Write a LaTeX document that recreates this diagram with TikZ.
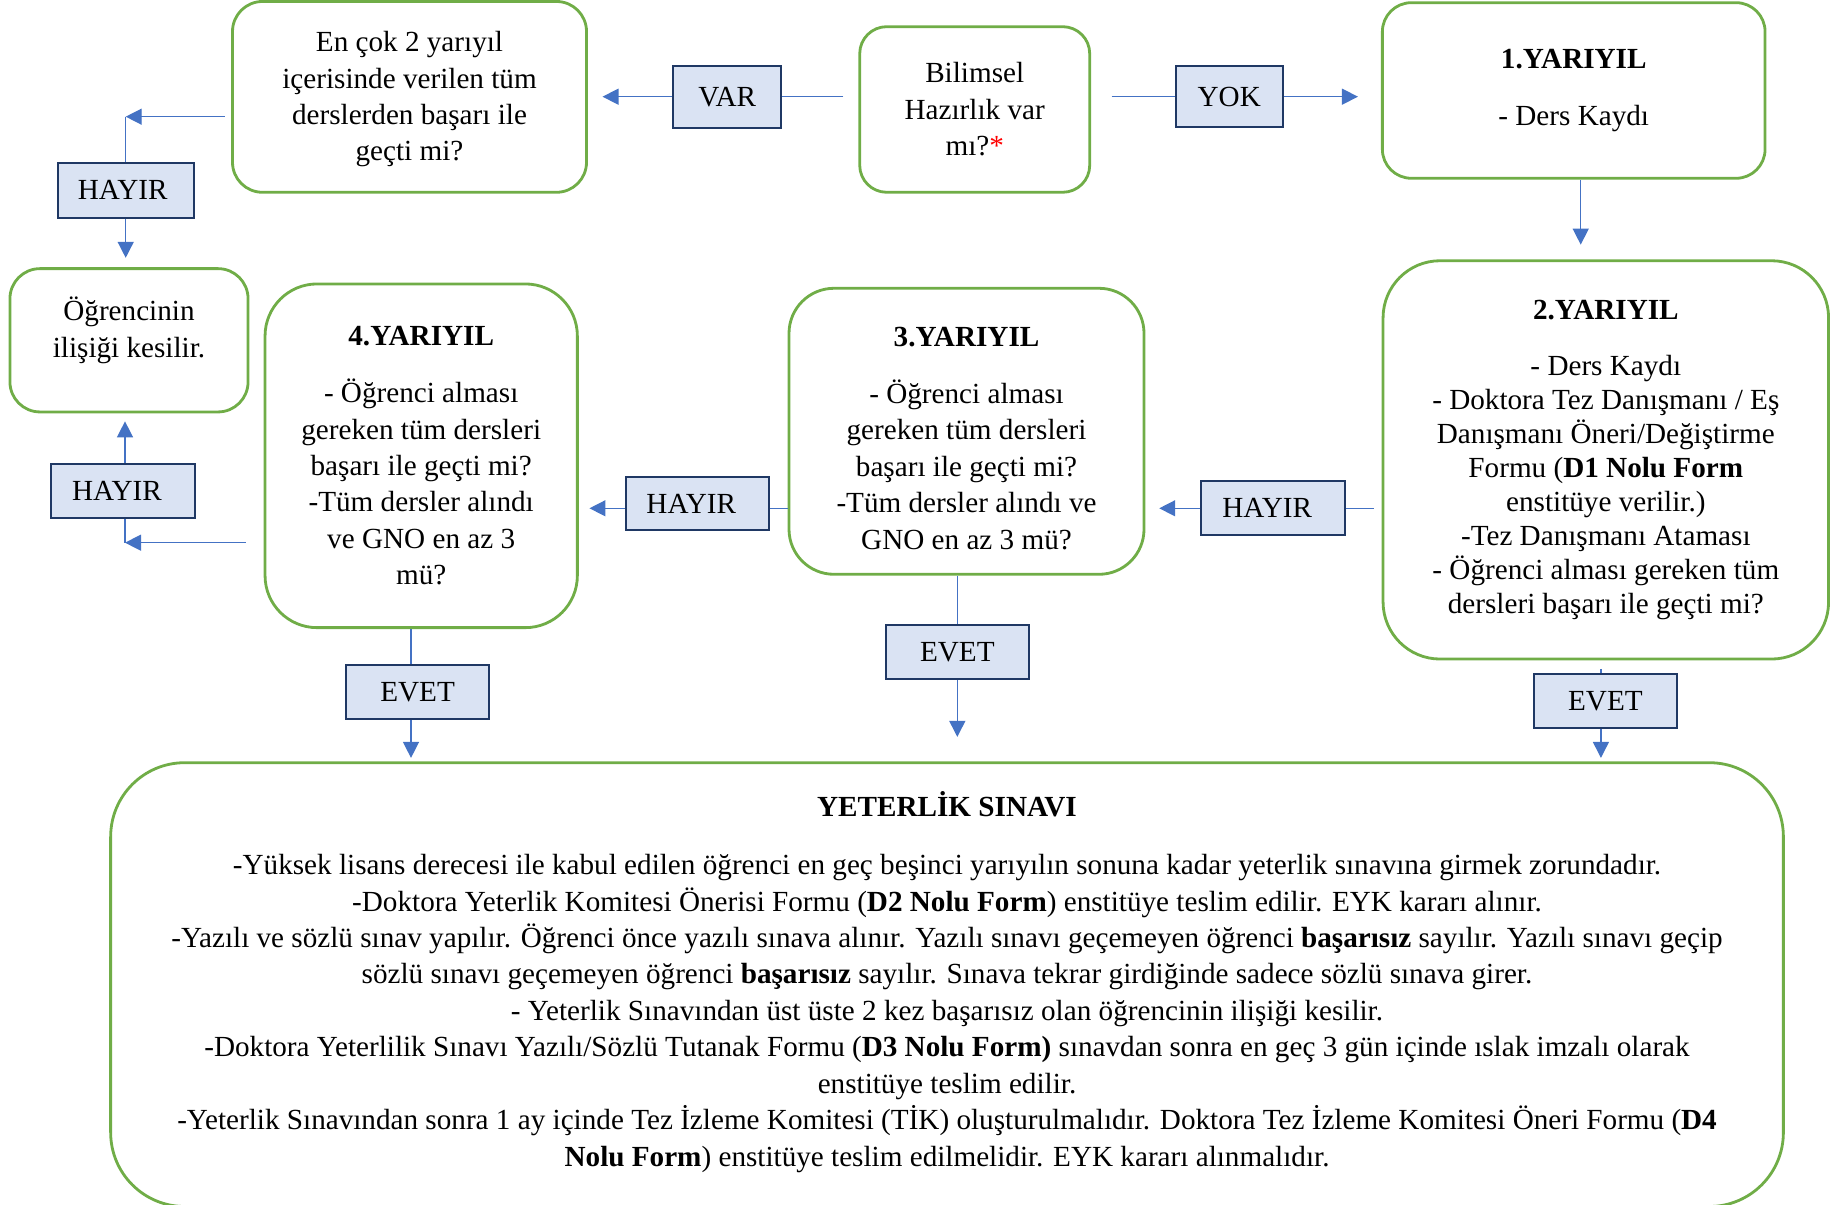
\documentclass[tikz,border=0pt]{standalone}
\usepackage{fontspec}
\setmainfont{Liberation Serif}
\usepackage{tikz}
\usepackage{xcolor}
\usetikzlibrary{arrows.meta}

\definecolor{boxgreen}{HTML}{70AD47}
\definecolor{lineblue}{HTML}{4472C4}
\definecolor{lblfill}{HTML}{DAE3F3}
\definecolor{lbldraw}{HTML}{1F3864}
\newcommand{\boxfont}{\fontsize{8.3}{10.36}\selectfont}
\newcommand{\tightfont}{\fontsize{8.3}{9.67}\selectfont}

\tikzset{
    gbox/.style={draw=boxgreen, line width=0.8pt, fill=white, align=center, inner sep=0pt, font=\boxfont},
    lbox/.style={draw=lbldraw, line width=0.6pt, fill=lblfill, inner sep=0pt, font=\boxfont},
    conn/.style={draw=lineblue, line width=0.4pt},
    arr/.style={conn, -{Triangle[length=0.16cm, width=0.16cm]}}
}

\begin{document}
\begin{tikzpicture}
        \useasboundingbox (0,0) rectangle (18.43,-12.05);

        \node[gbox, minimum width=3.54cm, minimum height=1.908cm, rounded corners=0.3cm] (encok) at (4.095,-0.969) {\rule{0pt}{7.1pt}En çok 2 yarıyıl\\içerisinde verilen tüm\\derslerden başarı ile\\geçti mi?};
        \node[gbox, minimum width=2.30cm, minimum height=1.656cm, rounded corners=0.27cm] (bilimsel) at (9.747,-1.095) {Bilimsel\\Hazırlık var\\mı?{\color{red}*}};
        \node[gbox, minimum width=3.827cm, minimum height=1.756cm, rounded corners=0.29cm] (yar1) at (15.737,-0.905) {\textbf{1.YARIYIL}\\[5.9pt]- Ders Kaydı};
        \node[gbox, font=\tightfont, minimum width=4.455cm, minimum height=3.983cm, rounded corners=0.57cm] (yar2) at (16.058,-4.599) {\textbf{2.YARIYIL}\\[6.5pt]- Ders Kaydı\\- Doktora Tez Danışmanı / Eş\\Danışmanı Öneri/Değiştirme\\Formu (\textbf{D1 Nolu Form}\\enstitüye verilir.)\\-Tez Danışmanı Ataması\\- Öğrenci alması gereken tüm\\dersleri başarı ile geçti mi?};
        \node[gbox, minimum width=3.55cm, minimum height=2.86cm, rounded corners=0.45cm] (yar3) at (9.665,-4.313) {\rule{0pt}{9.5pt}\textbf{3.YARIYIL}\\[5.9pt]- Öğrenci alması\\gereken tüm dersleri\\başarı ile geçti mi?\\-Tüm dersler alındı ve\\GNO en az 3 mü?};
        \node[gbox, minimum width=3.123cm, minimum height=3.437cm, rounded corners=0.52cm] (yar4) at (4.212,-4.558) {\textbf{4.YARIYIL}\\[5.9pt]- Öğrenci alması\\gereken tüm dersleri\\başarı ile geçti mi?\\-Tüm dersler alındı\\ve GNO en az 3\\mü?};
        \node[gbox, minimum width=2.381cm, minimum height=1.433cm, rounded corners=0.3cm] (ogr) at (1.29,-3.403) {};
        \node[align=center, font=\boxfont, yshift=0.1cm] (ogrtext) at (ogr) {Öğrencinin\\ilişiği kesilir.};
        \node[gbox, minimum width=16.727cm, minimum height=4.438cm, rounded corners=0.74cm] (yeter) at (9.47,-9.846) {\textbf{YETERLİK SINAVI}\\[6.1pt]
            -Yüksek lisans derecesi ile kabul edilen öğrenci en geç beşinci yarıyılın sonuna kadar yeterlik sınavına girmek zorundadır.\\
            -Doktora Yeterlik Komitesi Önerisi Formu (\textbf{D2 Nolu Form}) enstitüye teslim edilir. EYK kararı alınır.\\
            -Yazılı ve sözlü sınav yapılır. Öğrenci önce yazılı sınava alınır. Yazılı sınavı geçemeyen öğrenci \textbf{başarısız} sayılır. Yazılı sınavı geçip\\
            sözlü sınavı geçemeyen öğrenci \textbf{başarısız} sayılır. Sınava tekrar girdiğinde sadece sözlü sınava girer.\\
            - Yeterlik Sınavından üst üste 2 kez başarısız olan öğrencinin ilişiği kesilir.\\
            -Doktora Yeterlilik Sınavı Yazılı/Sözlü Tutanak Formu (\textbf{D3 Nolu Form)} sınavdan sonra en geç 3 gün içinde ıslak imzalı olarak\\
            enstitüye teslim edilir.\\
            -Yeterlik Sınavından sonra 1 ay içinde Tez İzleme Komitesi (TİK) oluşturulmalıdır. Doktora Tez İzleme Komitesi Öneri Formu (\textbf{D4}\\
            \textbf{Nolu Form}) enstitüye teslim edilmelidir. EYK kararı alınmalıdır.\rule[-3.2pt]{0pt}{0pt}};

        \node[lbox, minimum width=1.076cm, minimum height=0.62cm] (var) at (7.272,-0.967) {VAR};
        \node[lbox, minimum width=1.071cm, minimum height=0.613cm] (yok) at (12.292,-0.967) {YOK};
        \node[lbox, minimum width=1.36cm, minimum height=0.55cm] (hayir1) at (1.257,-1.902) {HAYIR\kern0.06cm};
        \node[lbox, minimum width=1.436cm, minimum height=0.543cm] (hayir2) at (1.23,-4.912) {HAYIR\kern0.12cm};
        \node[lbox, minimum width=1.435cm, minimum height=0.536cm] (hayirm) at (6.973,-5.035) {HAYIR\kern0.12cm};
        \node[lbox, minimum width=1.437cm, minimum height=0.54cm] (hayirr) at (12.732,-5.083) {HAYIR\kern0.12cm};
        \node[lbox, minimum width=1.43cm, minimum height=0.54cm] (evet1) at (4.176,-6.92) {EVET};
        \node[lbox, minimum width=1.432cm, minimum height=0.54cm] (evet2) at (9.573,-6.52) {EVET};
        \node[lbox, minimum width=1.431cm, minimum height=0.537cm] (evet3) at (16.054,-7.012) {EVET};

        \coordinate (c1) at (1.257,-1.167);
        \coordinate (c4) at (1.25,-5.427);

        \draw[conn, shorten <=0.15cm] (var.east -| bilimsel.west) -- (var.east);
        \draw[arr, shorten >=0.146cm] (var.west) -- (var.west -| encok.east);
        \draw[conn, shorten <=0.206cm] (yok.west -| bilimsel.east) -- (yok.west);
        \draw[arr, shorten >=0.23cm] (yok.east) -- (yok.east -| yar1.west);
        \draw[arr, shorten >=0.147cm] ([xshift=0.07cm]yar1.south) -- ([xshift=0.07cm]yar1.south |- yar2.north);
        \draw[conn, shorten <=0.08cm] (hayirr.east -| yar2.west) -- (hayirr.east);
        \draw[arr, shorten >=0.138cm] (hayirr.west) -- (hayirr.west -| yar3.east);
        \draw[conn] (hayirr.west -| yar3.west) -- (hayirr.west -| hayirm.east);
        \draw[arr, shorten >=0.107cm] (hayirr.west -| hayirm.west) -- (hayirr.west -| yar4.east);
        \draw[arr, shorten <=0.18cm] (yar4.west |- c4) -- (c4);
        \draw[conn] (c4) -- (c4 |- hayir2.south);
        \draw[arr, shorten >=0.08cm] (c4 |- hayir2.north) -- (c4 |- ogr.south);
        \draw[arr, shorten <=0.065cm] (encok.west |- c1) -- (c1);
        \draw[conn] (c1) -- (hayir1.north);
        \draw[arr, shorten >=0.094cm] (hayir1.south) -- (hayir1.south |- ogr.north);
        \draw[conn] ([xshift=-0.066cm]evet1.north |- yar4.south) -- ([xshift=-0.066cm]evet1.north);
        \draw[arr, shorten >=0.034cm] ([xshift=-0.066cm]evet1.south) -- ([xshift=-0.066cm]evet1.south |- yeter.north);
        \draw[conn] (evet2.north |- yar3.south) -- (evet2.north);
        \draw[arr, shorten >=0.244cm] (evet2.south) -- (evet2.south |- yeter.north);
        \draw[conn, shorten <=0.083cm] ([xshift=-0.045cm]evet3.north |- yar2.south) -- ([xshift=-0.045cm]evet3.north);
        \draw[arr, shorten >=0.034cm] ([xshift=-0.045cm]evet3.south) -- ([xshift=-0.045cm]evet3.south |- yeter.north);
    \end{tikzpicture}
\end{document}
